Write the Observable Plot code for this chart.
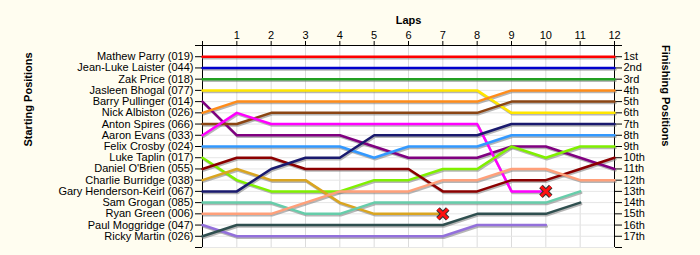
<!DOCTYPE html>
<html>
<head>
<meta charset="utf-8">
<script src="https://cdn.jsdelivr.net/npm/d3@7"></script>
<script src="https://cdn.jsdelivr.net/npm/@observablehq/plot@0.6"></script>
<style>
  html, body { margin: 0; padding: 0; background: #FFFDF0; }
  #chart svg { display: block; }
</style>
</head>
<body>
<div id="chart"></div>
<script>
const startNames = [
  "Mathew Parry (019)", "Jean-Luke Laister (044)", "Zak Price (018)", "Jasleen Bhogal (077)",
  "Barry Pullinger (014)", "Nick Albiston (026)", "Anton Spires (066)", "Aaron Evans (033)",
  "Felix Crosby (024)", "Luke Taplin (017)", "Daniel O'Brien (055)", "Charlie Burridge (038)",
  "Gary Henderson-Keirl (067)", "Sam Grogan (085)", "Ryan Green (006)", "Paul Moggridge (047)",
  "Ricky Martin (026)"
];
const finishLabels = ["1st","2nd","3rd","4th","5th","6th","7th","8th","9th","10th","11th","12th","13th","14th","15th","16th","17th"];
const lapTicks = [0,1,2,3,4,5,6,7,8,9,10,11,12];
const posTicks = [0,1,2,3,4,5,6,7,8,9,10,11,12,13,14,15,16,17,18];

// position of each driver at lap 0,1,2,...
const lapPositions = [
  [1,1,1,1,1,1,1,1,1,1,1,1,1],
  [2,2,2,2,2,2,2,2,2,2,2,2,2],
  [3,3,3,3,3,3,3,3,3,3,3,3,3],
  [4,4,4,4,4,4,4,4,4,6,6,6,6],
  [5,8,8,8,8,9,10,10,10,9,9,10,11],
  [6,5,5,5,5,5,5,5,5,4,4,4,4],
  [7,7,6,6,6,6,6,6,6,5,5,5,5],
  [8,6,7,7,7,7,7,7,7,13,13],
  [9,9,9,9,9,10,9,9,9,8,8,8,8],
  [10,12,13,13,13,12,12,11,11,9,10,9,9],
  [11,10,10,11,11,11,11,13,13,12,12,11,10],
  [12,11,12,12,14,15,15,15],
  [13,13,11,10,10,8,8,8,8,7,7,7,7],
  [14,14,14,15,15,14,14,14,14,14,14,13],
  [15,15,15,14,13,13,13,12,12,11,11,12,12],
  [16,17,17,17,17,17,17,17,16,16,16],
  [17,16,16,16,16,16,16,16,15,15,15,14]
];
const retiredDrivers = ["Charlie Burridge (038)", "Aaron Evans (033)"];

const lineColors = [
  "#FF0000", "#0000CC", "#22A022", "#FFE600", "#800080", "#FF8C1A", "#8B4513", "#FF00FF",
  "#3399FF", "#80F000", "#8B0000", "#DAA520", "#1A1A6E", "#66CDAA", "#FFA07A", "#9370DB",
  "#2F4F4F"
];

const rows = startNames.flatMap((name, i) =>
  lapPositions[i].map((p, j) => ({driver: name, lap: lapTicks[j], pos: p}))
);
const retired = retiredDrivers.map(name => {
  const i = startNames.indexOf(name);
  const arr = lapPositions[i];
  return {driver: name, lap: lapTicks[arr.length - 1], pos: arr[arr.length - 1]};
});

const font = "Liberation Sans, Arial, sans-serif";

const chart = Plot.plot({
  width: 700,
  height: 255,
  marginLeft: 202,
  marginRight: 86,
  marginTop: 45,
  marginBottom: 8,
  style: {background: "#FFFDF0", fontFamily: font, fontSize: "11px", color: "#000"},
  x: {domain: [0, 12]},
  y: {domain: [0, 18], reverse: true},
  color: {domain: startNames, range: lineColors},
  marks: [
    Plot.frame({fill: "white", stroke: null}),
    Plot.gridX(lapTicks, {stroke: "#dcdcdc", strokeOpacity: 1}),
    Plot.gridY(posTicks, {stroke: "#e6e6e6", strokeOpacity: 1}),
    Plot.axisX(lapTicks, {anchor: "top", tickSize: 5, tickPadding: 2, tickFormat: d => d === 0 ? "" : String(d), label: null, fontSize: 11}),
    Plot.axisY(posTicks, {anchor: "left", tickSize: 7, tickPadding: 2, tickFormat: d => startNames[d - 1] ?? "", label: null, fontSize: 11}),
    Plot.axisY(posTicks, {anchor: "right", tickSize: 7, tickPadding: 2, tickFormat: d => finishLabels[d - 1] ?? "", label: null, fontSize: 11}),
    Plot.ruleX([0, 12], {stroke: "#000"}),
    Plot.ruleY([0], {stroke: "#000", insetLeft: -7, insetRight: -8}),
    Plot.line(rows, {x: "lap", y: "pos", z: "driver", stroke: "#7a7a7a", strokeOpacity: 0.55, strokeWidth: 2.5, dx: 1, dy: 1.5}),
    Plot.line(rows, {x: "lap", y: "pos", z: "driver", stroke: "driver", strokeWidth: 2.5}),
    Plot.dot(retired, {x: "lap", y: "pos", symbol: "times", r: 4.5, stroke: "#333", strokeWidth: 5}),
    Plot.dot(retired, {x: "lap", y: "pos", symbol: "times", r: 4.5, stroke: "#FF1010", strokeWidth: 3}),
    Plot.text(["Laps"], {frameAnchor: "top", dy: -29, fontWeight: "bold", fontSize: 11}),
    Plot.text(["Starting Positions"], {frameAnchor: "left", dx: -174, rotate: -90, fontWeight: "bold", fontSize: 11}),
    Plot.text(["Finishing Positions"], {frameAnchor: "right", dx: 51, rotate: 90, fontWeight: "bold", fontSize: 11})
  ]
});
document.getElementById("chart").append(chart);
</script>
</body>
</html>
